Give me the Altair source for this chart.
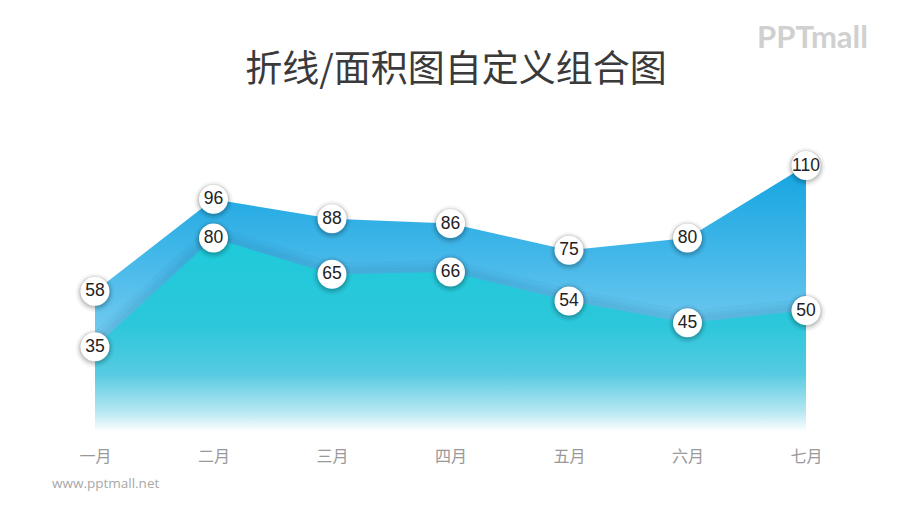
import altair as alt
import pandas as pd

months = ["一月", "二月", "三月", "四月", "五月", "六月", "七月"]
back_values = [58, 96, 88, 86, 75, 80, 110]
front_values = [35, 80, 65, 66, 54, 45, 50]

df = pd.DataFrame({"month": months, "back": back_values, "front": front_values})

title_text = "折线/面积图自定义组合图"
logo_text = "PPTmall"
url_text = "www.pptmall.net"

x_enc = alt.X("month:N", sort=months, scale=alt.Scale(type="point", padding=0),
              axis=alt.Axis(title=None, domain=False, ticks=False, grid=False,
                            labelAngle=0, labelFontSize=16, labelColor="#999999",
                            labelFont="Noto Sans CJK SC", labelPadding=17))
y_scale = alt.Scale(domain=[0, 110], nice=False, zero=True)

base = alt.Chart(df)

back_area = base.mark_area(
    interpolate="linear",
    color=alt.Gradient(gradient="linear", x1=1, x2=1, y1=0, y2=1,
                       stops=[alt.GradientStop(color="#14a4e0", offset=0),
                              alt.GradientStop(color="#45b8e9", offset=0.35),
                              alt.GradientStop(color="#6cc8ef", offset=0.6),
                              alt.GradientStop(color="#bfe6f6", offset=0.9),
                              alt.GradientStop(color="#ffffff", offset=1)])
).encode(x=x_enc, y=alt.Y("back:Q", scale=y_scale, axis=None))

y_front = alt.Y("front:Q", scale=y_scale, axis=None)
shadow_lines = [
    base.mark_line(interpolate="linear", color="#0a5f8a", opacity=0.05,
                   strokeWidth=w, yOffset=-1).encode(x=x_enc, y=y_front)
    for w in (22, 14, 8)
]

front_area = base.mark_area(
    interpolate="linear",
    color=alt.Gradient(gradient="linear", x1=1, x2=1, y1=0, y2=1,
                       stops=[alt.GradientStop(color="#1ecad9", offset=0),
                              alt.GradientStop(color="#2cc7db", offset=0.45),
                              alt.GradientStop(color="#55cbe1", offset=0.7),
                              alt.GradientStop(color="#b8e7f2", offset=0.9),
                              alt.GradientStop(color="#ffffff", offset=1)])
).encode(x=x_enc, y=y_front)

def point_layers(field):
    enc = dict(x=x_enc, y=alt.Y(f"{field}:Q", scale=y_scale, axis=None))
    s0 = base.mark_circle(size=1500, color="#000000", opacity=0.04, yOffset=1.5).encode(**enc)
    s1 = base.mark_circle(size=1200, color="#000000", opacity=0.07, yOffset=1.5).encode(**enc)
    s2 = base.mark_circle(size=1000, color="#000000", opacity=0.1, yOffset=1).encode(**enc)
    c = base.mark_circle(size=840, color="#ffffff", opacity=1).encode(**enc)
    t = base.mark_text(font="Liberation Sans", fontSize=17.5, color="#222222",
                       baseline="middle", align="center").encode(
        text=alt.Text(f"{field}:Q"), **enc)
    return [s0, s1, s2, c, t]

title_mark = alt.Chart(pd.DataFrame({"t": [title_text]})).mark_text(
    font="Noto Sans CJK SC", fontSize=37, color="#3a3a3a", align="center",
    baseline="middle").encode(text="t:N", x=alt.value(361), y=alt.value(-95))

logo_mark = alt.Chart(pd.DataFrame({"t": [logo_text]})).mark_text(
    font="Lato", fontSize=31, fontWeight="bold", color="#d0d0d0", align="right",
    baseline="middle").encode(text="t:N", x=alt.value(773), y=alt.value(-127))

url_mark = alt.Chart(pd.DataFrame({"t": [url_text]})).mark_text(
    font="Open Sans", fontSize=13.5, color="#a8a8a8", align="left",
    baseline="middle").encode(text="t:N", x=alt.value(-43), y=alt.value(318))

chart = alt.layer(
    back_area, *shadow_lines, front_area,
    *point_layers("back"), *point_layers("front"),
    title_mark, logo_mark, url_mark
).properties(
    width=711, height=266,
    background="#ffffff",
    autosize=alt.AutoSizeParams(type="none"),
    padding={"left": 87, "top": 157.5, "right": 86, "bottom": 67}
).configure_view(stroke=None, strokeWidth=0)

chart.save("out.html", embed_options={"renderer": "svg", "actions": False})
